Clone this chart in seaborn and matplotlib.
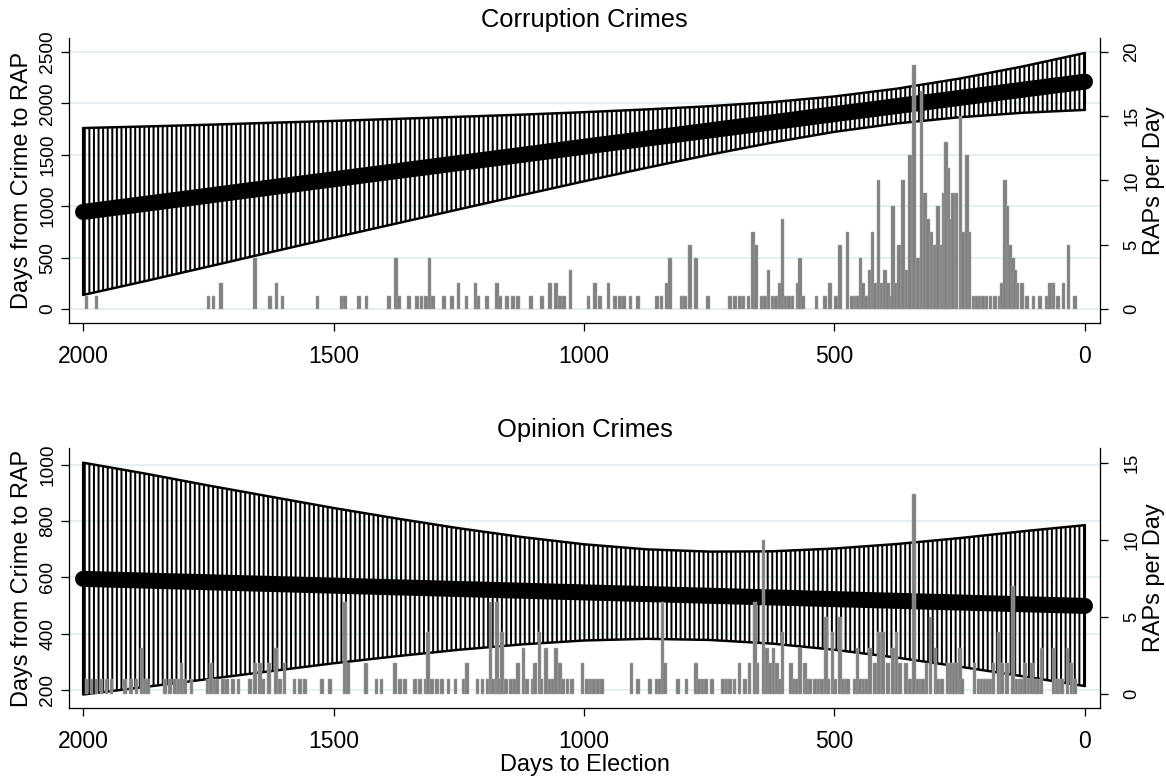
import matplotlib
import matplotlib.pyplot as plt
import seaborn as sns

matplotlib.use("Agg")

# linear fit with confidence band, read at anchor days
fit_days = [2000, 1875, 1750, 1625, 1500, 1375, 1250, 1125, 1000,
            875, 750, 625, 500, 375, 250, 125, 0]

corr_mid = [944, 1023, 1102, 1182, 1261, 1340, 1419, 1498, 1578,
            1657, 1736, 1815, 1895, 1974, 2053, 2132, 2211]
corr_hi = [1760, 1775, 1792, 1811, 1829, 1849, 1869, 1890, 1914,
           1941, 1972, 2012, 2067, 2143, 2241, 2358, 2490]
corr_lo = [136, 272, 412, 553, 693, 831, 969, 1106, 1242,
           1373, 1500, 1618, 1723, 1805, 1865, 1908, 1936]

opin_mid = [595, 589, 583, 577, 571, 565, 559, 553, 547,
            541, 535, 529, 523, 517, 511, 505, 499]
opin_hi = [1008, 969, 927, 887, 847, 810, 775, 744, 718,
           700, 692, 693, 703, 719, 740, 764, 786]
opin_lo = [184, 211, 239, 267, 295, 320, 343, 362, 376,
           382, 378, 365, 343, 315, 283, 249, 214]

# RAPs per day (right axis)
corr_bar_days = [
    1993, 1973, 1750, 1740, 1725, 1657, 1627, 1614, 1602, 1532, 1484, 1477,
    1449, 1434, 1389, 1375, 1369, 1349, 1333, 1324, 1315, 1308, 1301, 1279,
    1264, 1251, 1235, 1217, 1211, 1194, 1174, 1168, 1154, 1142, 1132, 1106,
    1084, 1068, 1056, 1048, 1040, 1027, 991, 978, 968, 951, 938, 928, 920,
    907, 892, 854, 845, 834, 828, 805, 798, 788, 776, 752, 709, 699, 689,
    682, 672, 663, 657, 645, 639, 632, 624, 617, 609, 604, 598, 591, 584,
    573, 569, 563, 536, 519, 509, 497, 489, 474, 465, 458, 453, 448, 443,
    437, 430, 424, 419, 412, 406, 399, 393, 388, 383, 377, 371, 363, 356,
    349, 341, 333, 326, 319, 313, 306, 299, 293, 286, 281, 277, 272, 268,
    263, 256, 248, 243, 236, 231, 223, 216, 211, 204, 197, 189, 180, 170,
    166, 160, 155, 150, 144, 140, 135, 126, 116, 103, 90, 76, 70, 63, 54,
    43, 33, 20,
]
corr_bar_counts = [
    1, 1, 1, 1, 2, 4, 1, 2, 1, 1, 1, 1,
    1, 1, 1, 4, 1, 1, 1, 1, 1, 4, 1, 1,
    1, 2, 1, 2, 1, 1, 2, 1, 1, 1, 1, 1,
    1, 2, 2, 1, 1, 3, 1, 2, 1, 2, 1, 1, 1,
    1, 1, 1, 1, 2, 4, 1, 1, 5, 4, 1, 1, 1, 1,
    1, 1, 6, 5, 1, 1, 3, 1, 1, 2, 7, 1, 1, 1,
    2, 4, 1, 1, 1, 2, 1, 5, 6, 1, 1, 1, 4, 2,
    1, 3, 6, 2, 10, 2, 3, 2, 1, 8, 2, 5, 10, 3,
    12, 19, 4, 17, 9, 7, 6, 5, 8, 5, 9, 13, 11, 7,
    9, 9, 15, 6, 12, 6, 1, 1, 1, 1, 1, 1, 1, 1,
    2, 10, 8, 5, 4, 3, 2, 2, 1, 1, 1, 1, 2, 2, 1,
    2, 5, 1,
]

opin_bar_days = [
    1993, 1983, 1973, 1963, 1953, 1943, 1916, 1904, 1893, 1883, 1876, 1870,
    1836, 1826, 1816, 1809, 1803, 1796, 1784, 1752, 1745, 1738, 1733, 1721,
    1713, 1701, 1690, 1667, 1657, 1647, 1641, 1629, 1615, 1607, 1598, 1578,
    1567, 1557, 1523, 1507, 1477, 1471, 1435, 1414, 1404, 1377, 1367, 1357,
    1337, 1327, 1315, 1311, 1303, 1293, 1283, 1271, 1257, 1241, 1234, 1213,
    1203, 1193, 1187, 1182, 1174, 1170, 1164, 1156, 1146, 1138, 1132, 1121,
    1114, 1102, 1098, 1089, 1085, 1076, 1068, 1062, 1056, 1048, 1042, 1033,
    1024, 1003, 994, 987, 980, 972, 964, 905, 892, 868, 854, 848, 843, 838,
    812, 795, 776, 770, 763, 756, 745, 723, 716, 709, 700, 690, 679, 670,
    659, 654, 642, 635, 629, 622, 615, 609, 604, 587, 581, 575, 569, 559,
    555, 549, 539, 532, 525, 517, 512, 504, 499, 489, 483, 478, 473, 459,
    454, 449, 442, 435, 429, 419, 411, 403, 393, 383, 376, 369, 357, 349,
    341, 333, 328, 323, 316, 308, 298, 293, 285, 273, 267, 261, 255, 249,
    245, 221, 213, 207, 201, 195, 189, 183, 173, 166, 156, 144, 137, 131,
    126, 120, 113, 106, 100, 94, 87, 63, 56, 51, 46, 35, 27, 20,
]
opin_bar_counts = [
    1, 1, 1, 1, 1, 1, 1, 1, 1, 3, 1, 1,
    1, 1, 1, 1, 2, 1, 1, 1, 2, 1, 1, 1,
    1, 1, 1, 1, 2, 2, 1, 2, 3, 1, 2, 1,
    1, 1, 1, 1, 6, 2, 2, 1, 1, 2, 1, 1,
    1, 1, 1, 4, 1, 1, 1, 1, 1, 1, 2, 1,
    1, 1, 6, 1, 6, 1, 4, 1, 1, 1, 2, 3,
    1, 1, 2, 4, 1, 3, 1, 1, 3, 2, 1, 1,
    1, 2, 1, 1, 1, 1, 1, 2, 1, 1, 1, 1, 6, 2,
    1, 1, 2, 1, 1, 1, 1, 1, 1, 1, 1, 2, 1, 2,
    6, 2, 10, 3, 2, 3, 2, 1, 4, 2, 1, 1, 3, 2,
    1, 1, 1, 1, 1, 5, 1, 4, 1, 5, 1, 1, 1, 1,
    3, 1, 1, 1, 3, 2, 4, 4, 2, 3, 4, 2, 2, 1,
    13, 1, 1, 1, 2, 5, 3, 1, 1, 2, 2, 2, 2, 3,
    1, 2, 1, 1, 1, 1, 1, 2, 4, 2, 2, 7, 1, 1,
    1, 2, 1, 2, 1, 1, 3, 3, 1, 1, 1, 3, 2, 1,
]

DPI = 110
GRID = "#e6eff1"
BAR = "#808080"

sns.set_theme(style="white")
plt.rcParams["font.family"] = ["Liberation Sans", "DejaVu Sans"]
plt.rcParams["hatch.linewidth"] = 1.3
plt.rcParams["axes.edgecolor"] = "black"
plt.rcParams["axes.linewidth"] = 0.85


def draw_panel(fig, rect, title, mid, lo, hi, bar_days, bar_counts,
               left_lim, left_ticks, right_lim, right_ticks):
    ax = fig.add_axes(rect)
    ax.set_facecolor("white")

    # confidence band: vertical caps drawn as hatch
    ax.fill_between(fit_days, lo, hi, facecolor="none", edgecolor="black",
                    hatch="||||", linewidth=0, zorder=2)
    ax.plot(fit_days, hi, color="black", linewidth=1.6, zorder=3)
    ax.plot(fit_days, lo, color="black", linewidth=1.6, zorder=3)
    ax.vlines([fit_days[0], fit_days[-1]], [lo[0], lo[-1]], [hi[0], hi[-1]],
              color="black", linewidth=1.4, zorder=3)
    sns.lineplot(x=fit_days, y=mid, ax=ax, color="black", linewidth=10.5,
                 solid_capstyle="round", zorder=4)

    ax.set_xlim(2028, -30)
    ax.set_xticks([2000, 1500, 1000, 500, 0])
    ax.set_ylim(*left_lim)
    ax.set_yticks(left_ticks)
    ax.yaxis.grid(True, color=GRID, linewidth=1.4)
    ax.xaxis.grid(False)
    ax.set_axisbelow(True)

    ax2 = ax.twinx()
    ax2.bar(bar_days, bar_counts, width=7, color=BAR, edgecolor="#a8a8a8",
            linewidth=0.3, zorder=5)
    ax2.set_ylim(*right_lim)
    ax2.set_yticks(right_ticks)
    ax2.grid(False)

    for s in ["top", "right"]:
        ax.spines[s].set_visible(False)
    for s in ["top", "left", "bottom"]:
        ax2.spines[s].set_visible(False)

    ax.tick_params(axis="x", bottom=True, direction="out", length=5.2,
                   width=0.85, labelsize=15, pad=9, colors="black")
    ax.tick_params(axis="y", left=True, direction="out", length=5.2,
                   width=0.85, labelsize=12.5, pad=3, labelrotation=90,
                   colors="black")
    ax2.tick_params(axis="y", right=True, direction="out", length=5.2,
                    width=0.85, labelsize=12, pad=10, labelrotation=90,
                    colors="black")
    for t in ax.get_yticklabels() + ax2.get_yticklabels():
        t.set_verticalalignment("center")

    ax.set_title(title, fontsize=16.7, pad=7, color="black")
    ax.set_ylabel("Days from Crime to RAP", fontsize=15.4, color="black")
    ax.yaxis.set_label_coords(-0.035, 0.5)
    ax2.set_ylabel("RAPs per Day", fontsize=15.4, color="black")
    ax2.yaxis.set_label_coords(1.042, 0.5)
    return ax


fig = plt.figure(figsize=(1166 / DPI, 776 / DPI), dpi=DPI)
fig.patch.set_facecolor("white")

draw_panel(fig, [0.0592, 0.5838, 0.8842, 0.3673], "Corruption Crimes",
           corr_mid, corr_lo, corr_hi, corr_bar_days, corr_bar_counts,
           (-136, 2636), [0, 500, 1000, 1500, 2000, 2500],
           (-1.09, 21.09), [0, 5, 10, 15, 20])

ax_b = draw_panel(fig, [0.0592, 0.0876, 0.8842, 0.335], "Opinion Crimes",
                  opin_mid, opin_lo, opin_hi, opin_bar_days, opin_bar_counts,
                  (136, 1060), [200, 400, 600, 800, 1000],
                  (-0.91, 15.97), [0, 5, 10, 15])
ax_b.set_xlabel("Days to Election", fontsize=15.4, labelpad=1, color="black")

fig.savefig("out.png", dpi=DPI, facecolor="white")
plt.close(fig)
